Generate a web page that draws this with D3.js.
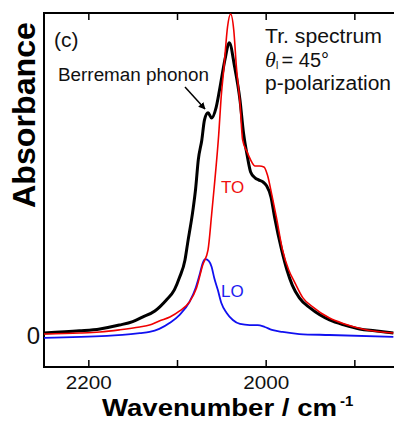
<!DOCTYPE html>
<html><head><meta charset="utf-8">
<script src="https://cdn.jsdelivr.net/npm/d3@7"></script>
<style>
html,body{margin:0;padding:0;background:#fff;}
svg{display:block;}
text{font-family:"Liberation Sans",Arial,sans-serif;}
</style></head>
<body>
<svg id="chart" width="394" height="421"></svg>
<script>
// Wavenumber (cm^-1) and absorbance (arb. units)
const blackWn = [2250,2210,2187,2165,2150,2139,2125,2112,2103,2097,2091,2088,2082,2079,2076,2072,2069,2065,2061,2056,2052,2046,2041,2035,2029,2025,2021,2017,2012,2008,2003,1999,1994,1990,1982,1976,1970,1962,1950,1939,1928,1911,1894,1877,1856];
const blackA  = [0.009,0.016,0.022,0.034,0.045,0.059,0.078,0.1125,0.144,0.184,0.2375,0.29,0.394,0.46,0.55,0.6125,0.675,0.697,0.681,0.7125,0.769,0.8625,0.916,0.84,0.7375,0.634,0.566,0.5125,0.494,0.4875,0.481,0.469,0.434,0.372,0.269,0.206,0.159,0.119,0.0875,0.066,0.05,0.034,0.022,0.016,0.009];

const redWn = [2250,2210,2187,2165,2142,2131,2120,2108,2097,2086,2078,2071,2065,2061,2058,2053,2050,2047,2043,2039.5,2036,2033,2029,2026,2021,2017,2012,2007,2002,1998,1993,1988,1981,1974,1967,1958,1947,1928,1911,1891,1856];
const redA  = [0.006,0.009,0.0125,0.019,0.028,0.034,0.047,0.059,0.078,0.106,0.15,0.222,0.269,0.378,0.466,0.628,0.753,0.84,0.966,1.006,0.956,0.84,0.728,0.6125,0.575,0.55,0.531,0.531,0.528,0.503,0.44,0.372,0.269,0.206,0.166,0.119,0.091,0.056,0.0375,0.022,0.009];

const blueWn = [2250,2179,2142,2131,2120,2108,2097,2086,2079,2074,2071,2068,2064,2061,2058,2054,2050,2044,2037,2029,2018,2009,2001,1993,1981,1962,1928,1856];
const blueA  = [-0.006,0,0.009,0.0125,0.022,0.041,0.066,0.106,0.15,0.197,0.228,0.24,0.234,0.216,0.181,0.144,0.103,0.072,0.05,0.0375,0.034,0.034,0.028,0.019,0.0125,0.006,0.003,-0.003];

const xTicks = [2200,2100,2000,1900];
const xTickLabels = ["2200","","2000",""];
const yTickLabel = "0";

const svg = d3.select("#chart");
const L = 44, T = 13, B = 367;
const x = d3.scaleLinear().domain([2250,1850]).range([L, L + 400*0.8867]);
const y = d3.scaleLinear().domain([-0.097,1.009]).range([B, T]);

svg.append("defs").append("clipPath").attr("id","clip")
  .append("rect").attr("x",L).attr("y",T).attr("width",400).attr("height",B-T);

// axes
const xb = d3.axisBottom(x).tickValues(xTicks).tickSize(-7).tickPadding(9)
  .tickFormat((d,i)=>xTickLabels[i]);
const gb = svg.append("g").attr("transform",`translate(0,${B})`).call(xb);
gb.select(".domain").remove();
gb.selectAll(".tick line").attr("stroke","#000").attr("stroke-width",1.5);
gb.selectAll(".tick text").attr("font-size",18).attr("fill","#111")
  .attr("font-family","Liberation Sans, Arial, sans-serif")
  .each(function(){ if(this.textContent) d3.select(this).attr("textLength",46).attr("lengthAdjust","spacingAndGlyphs"); });

const xt = d3.axisTop(x).tickValues(xTicks).tickSize(-7).tickFormat("");
const gt = svg.append("g").attr("transform",`translate(0,${T})`).call(xt);
gt.select(".domain").remove();
gt.selectAll(".tick line").attr("stroke","#000").attr("stroke-width",1.5);

svg.append("line").attr("x1",L).attr("x2",394).attr("y1",B).attr("y2",B).attr("stroke","#000").attr("stroke-width",2);
svg.append("line").attr("x1",L).attr("x2",394).attr("y1",T).attr("y2",T).attr("stroke","#000").attr("stroke-width",2);
svg.append("line").attr("x1",L).attr("x2",L).attr("y1",T-1).attr("y2",B+1).attr("stroke","#000").attr("stroke-width",2);

svg.append("text").attr("x",L-4).attr("y",y(0)).attr("dy","0.35em").attr("text-anchor","end")
  .attr("font-family","Liberation Serif, Times New Roman, serif").attr("font-size",24).attr("fill","#111").text(yTickLabel);

// curves
const line = d3.line().x(d=>x(d[0])).y(d=>y(d[1])).curve(d3.curveMonotoneX);
const gc = svg.append("g").attr("clip-path","url(#clip)");
function draw(wn, a, color, w){
  const data = wn.map((v,i)=>[v,a[i]]);
  gc.append("path").datum(data).attr("d",line).attr("fill","none")
    .attr("stroke",color).attr("stroke-width",w).attr("stroke-linejoin","round");
}
draw(blueWn, blueA, "#1010f0", 1.8);
draw(blackWn, blackA, "#000", 3);
draw(redWn, redA, "#f00000", 1.6);

// labels
svg.append("text").attr("transform","translate(35,115) rotate(-90)").attr("text-anchor","middle")
  .attr("font-weight","bold").attr("font-size",31).attr("textLength",186).attr("lengthAdjust","spacingAndGlyphs")
  .text("Absorbance");
svg.append("text").attr("x",102).attr("y",416).attr("font-weight","bold").attr("font-size",23)
  .attr("textLength",235).attr("lengthAdjust","spacingAndGlyphs").text("Wavenumber / cm");
svg.append("text").attr("x",340).attr("y",406).attr("font-weight","bold").attr("font-size",15).text("-1");

svg.append("text").attr("x",54).attr("y",47).attr("font-size",21).attr("fill","#111").text("(c)");
svg.append("text").attr("x",58).attr("y",81).attr("font-size",18).attr("fill","#111")
  .attr("textLength",151).attr("lengthAdjust","spacingAndGlyphs").text("Berreman phonon");
svg.append("text").attr("x",265).attr("y",43).attr("font-size",20).attr("fill","#111")
  .attr("textLength",117).attr("lengthAdjust","spacingAndGlyphs").text("Tr. spectrum");
const th = svg.append("text").attr("x",265).attr("y",67).attr("font-size",20).attr("fill","#111");
th.append("tspan").attr("font-family","Liberation Serif, Times New Roman, serif").attr("font-style","italic").attr("font-size",22).text("θ");
th.append("tspan").attr("font-size",10).attr("dy",2).text("I");
th.append("tspan").attr("dy",-2).attr("dx",3).text("= 45°");
svg.append("text").attr("x",265).attr("y",90).attr("font-size",20).attr("fill","#111")
  .attr("textLength",126).attr("lengthAdjust","spacingAndGlyphs").text("p-polarization");

svg.append("text").attr("x",221).attr("y",193).attr("font-size",17).attr("fill","#f01010").text("TO");
svg.append("text").attr("x",221).attr("y",297).attr("font-size",17).attr("fill","#2020f0").text("LO");

// arrow
svg.append("defs").append("marker").attr("id","ah").attr("viewBox","0 0 10 10").attr("refX",9).attr("refY",5)
  .attr("markerWidth",7).attr("markerHeight",7).attr("markerUnits","userSpaceOnUse").attr("orient","auto")
  .append("path").attr("d","M0,0 L10,5 L0,10 z").attr("fill","#000");
svg.append("line").attr("x1",185).attr("y1",87).attr("x2",205).attr("y2",109)
  .attr("stroke","#000").attr("stroke-width",1.5).attr("marker-end","url(#ah)");
</script>
</body></html>
